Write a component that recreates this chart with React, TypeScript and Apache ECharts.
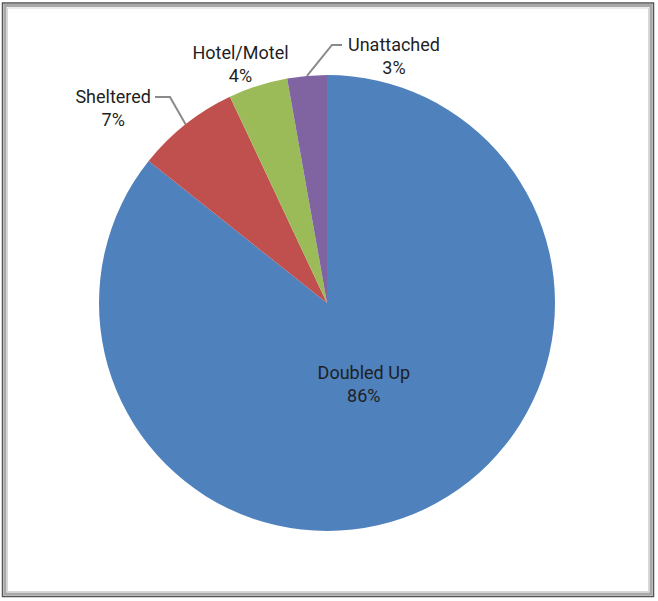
import React, { useEffect, useRef } from "react";
import * as echarts from "echarts";

const categories = ["Doubled Up", "Sheltered", "Hotel/Motel", "Unattached"];
const values = [85.7, 7.3, 4.2, 2.8];
const sliceColors = ["#4F81BD", "#C0504D", "#9BBB59", "#8064A2"];

const FONT = "Roboto, 'Liberation Sans', sans-serif";
const LINE_H = 23;

export default function App() {
  const ref = useRef<HTMLDivElement>(null);
  useEffect(() => {
    if (!ref.current) return;
    const chart = echarts.init(ref.current, null, { renderer: "svg" });
    const data = categories.map((name, i) => ({
      name,
      value: values[i],
      itemStyle: { color: sliceColors[i] },
      label: { position: i === 0 ? "inside" : "outside" },
      labelLine: i === 2 ? { show: true, lineStyle: { opacity: 0 } } : { show: i !== 0 },
    }));
    chart.setOption({
      animation: false,
      backgroundColor: "#ffffff",
      graphic: [
        { type: "rect", shape: { x: 2.5, y: 3, width: 651, height: 593.5 }, style: { fill: "none", stroke: "#555555", lineWidth: 1.5 }, silent: true },
        { type: "rect", shape: { x: 5, y: 5.5, width: 646, height: 588.5 }, style: { fill: "none", stroke: "#a8a8a8", lineWidth: 3 }, silent: true },
        { type: "rect", shape: { x: 7.5, y: 8, width: 641, height: 583.5 }, style: { fill: "none", stroke: "#d8d8d8", lineWidth: 1 }, silent: true },
      ],
      series: [
        {
          type: "pie",
          center: [327, 303],
          radius: 228,
          startAngle: 90,
          clockwise: true,
          avoidLabelOverlap: false,
          data,
          label: {
            show: true,
            fontFamily: FONT,
            fontSize: 18,
            lineHeight: LINE_H,
            color: "#1f1f1f",
            formatter: (p: any) => `${p.name}\n${Math.round(p.percent)}%`,
          },
          labelLine: {
            show: true,
            length: 31,
            length2: 15,
            lineStyle: { color: "#8a8a8a", width: 2 },
          },
          labelLayout: (params: any) => {
            const i = params.dataIndex;
            const w = params.labelRect.width;
            if (i === 0) {
              return { dx: -14, dy: -24 };
            }
            const pts = params.labelLinePoints;
            if (!pts) return {};
            const p0 = [pts[0][0], pts[0][1]];
            if (i === 1) {
              const p1 = [p0[0] - 15.6, p0[1] - 27.2];
              const p2 = [p1[0] - 15, p1[1]];
              return {
                x: p2[0] - 4 - w / 2,
                y: p1[1] - LINE_H / 2,
                align: "center",
                verticalAlign: "top",
                labelLinePoints: [p0, p1, p2],
              };
            }
            if (i === 2) {
              return {
                x: p0[0] - 17.4,
                y: p0[1] - 45.2,
                align: "center",
                verticalAlign: "top",
                labelLinePoints: [p0, p0, p0],
              };
            }
            const p1 = [p0[0] + 25, p0[1] - 31];
            const p2 = [p1[0] + 10, p1[1]];
            return {
              x: p2[0] + 6 + w / 2,
              y: p1[1] - LINE_H / 2,
              align: "center",
              verticalAlign: "top",
              labelLinePoints: [p0, p1, p2],
            };
          },
        },
      ],
    });
    return () => chart.dispose();
  }, []);
  return (
    <div
      ref={ref}
      style={{ position: "fixed", left: 0, top: 0, width: 658, height: 601 }}
    />
  );
}
